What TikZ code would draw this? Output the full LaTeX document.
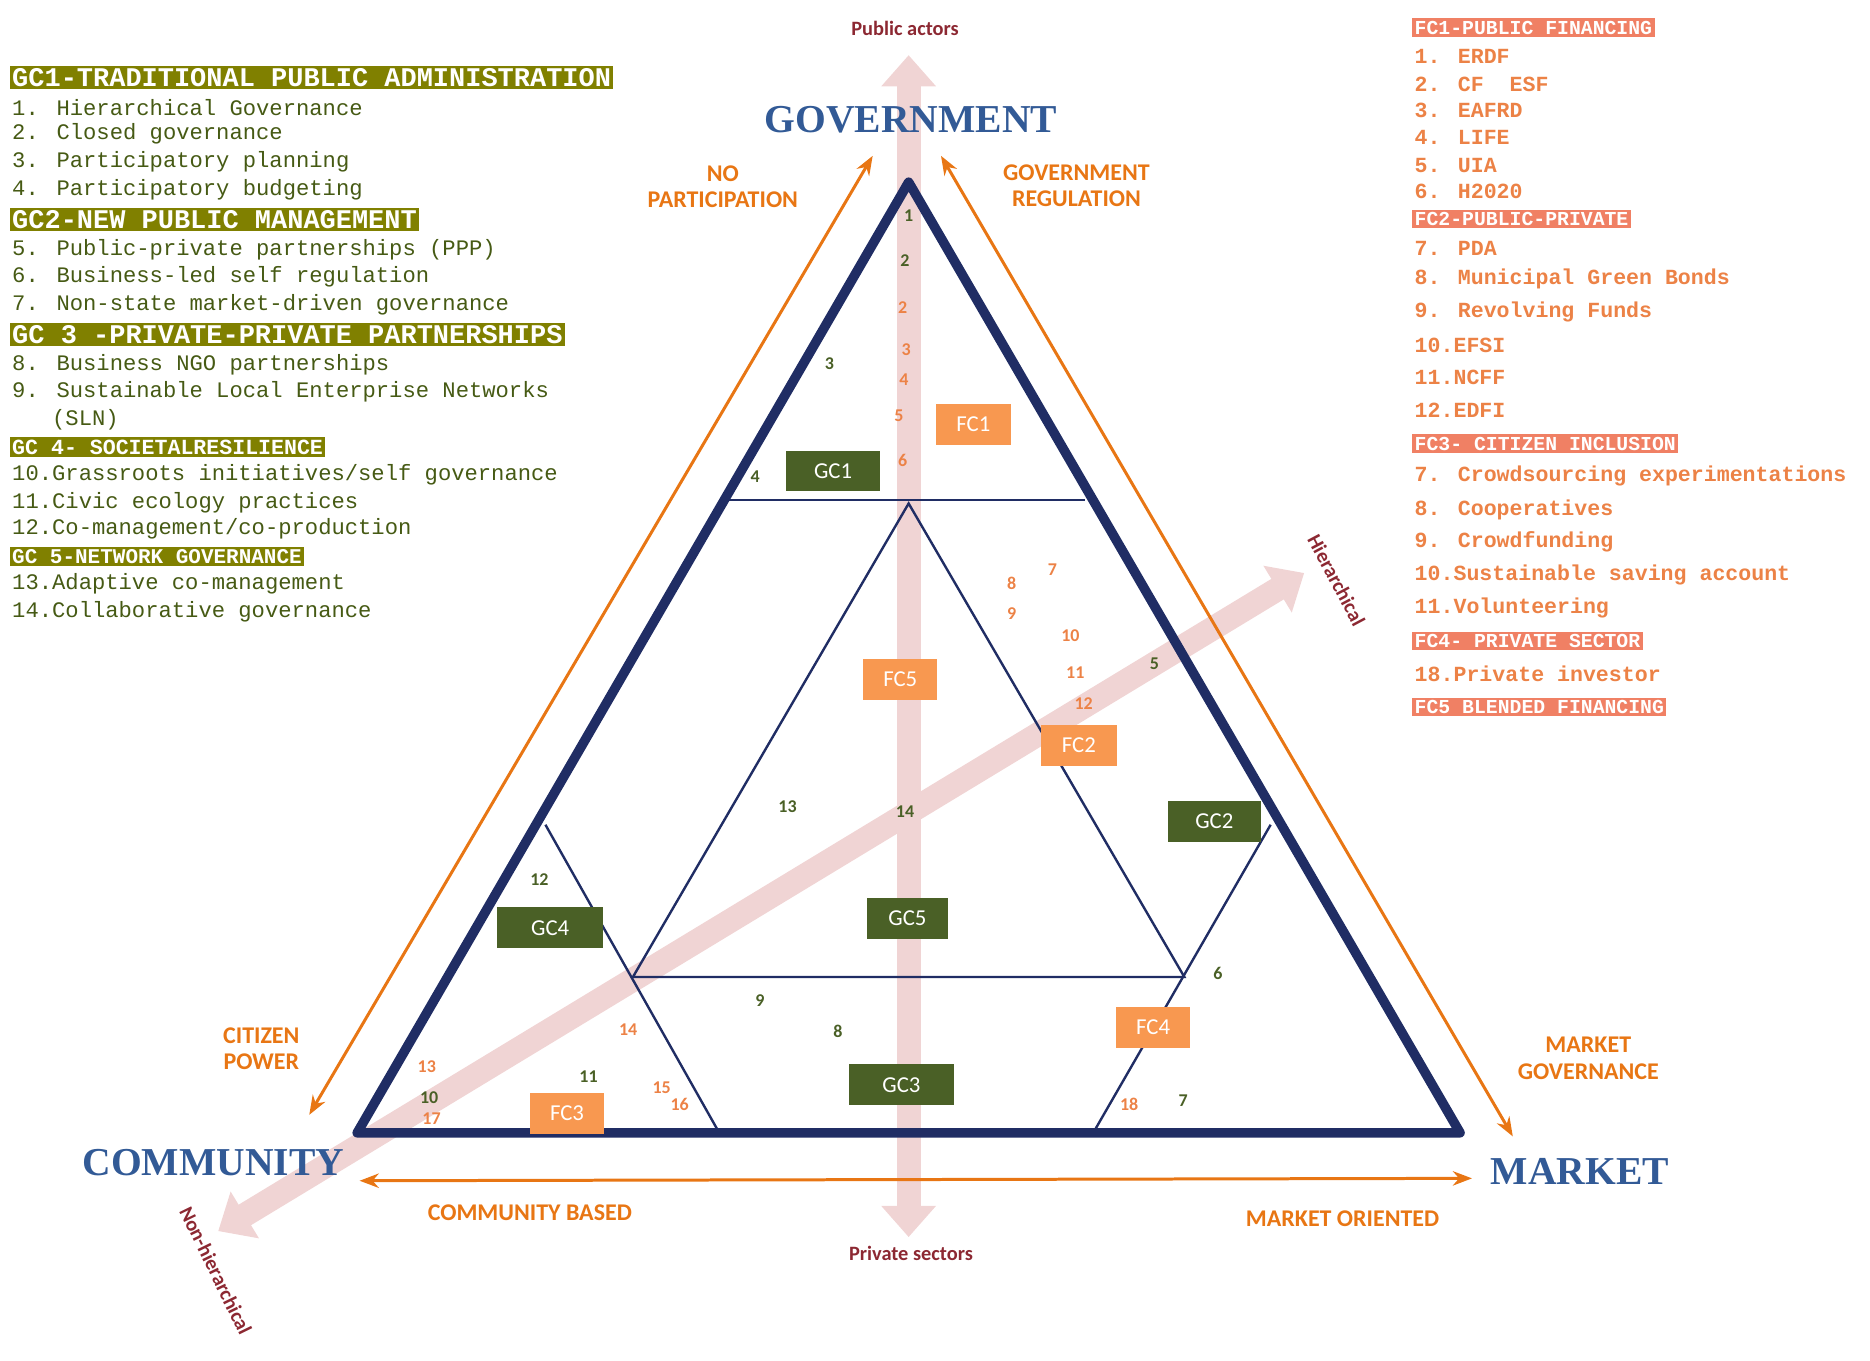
\documentclass[tikz,border=0pt]{standalone}
\usepackage{fontspec}
\setmainfont{Liberation Serif}
\newfontfamily\lmono{Liberation Mono}
\newfontfamily\lsans{Carlito}
\usetikzlibrary{arrows.meta}
\definecolor{navy}{RGB}{32,45,100}
\definecolor{pinkish}{RGB}{240,212,212}
\definecolor{orng}{RGB}{232,118,20}
\definecolor{olive}{RGB}{128,128,0}
\definecolor{ltxt}{RGB}{70,90,20}
\definecolor{salmon}{RGB}{240,128,100}
\definecolor{ftxt}{RGB}{236,130,70}
\definecolor{gbox}{RGB}{74,96,38}
\definecolor{fbox}{RGB}{248,152,80}
\definecolor{dred}{RGB}{140,40,50}
\definecolor{bluet}{RGB}{50,90,150}
\tikzset{
 lg/.style={anchor=west,inner sep=0pt,text=ltxt,font=\lmono\fontsize{18.5}{18.5}\selectfont},
 gh/.style={anchor=west,inner sep=2pt,fill=olive,text=white,font=\lmono\bfseries\fontsize{22.5}{22.5}\selectfont},
 fh/.style={anchor=west,inner sep=2pt,fill=salmon,text=white,font=\lmono\bfseries\fontsize{16.5}{16.5}\selectfont},
 fi/.style={anchor=west,inner sep=0pt,text=ftxt,font=\lmono\bfseries\fontsize{18}{18}\selectfont},
 gcb/.style={fill=gbox,text=white,minimum height=34pt,minimum width=78pt,font=\lsans\fontsize{19}{19}\selectfont},
 fcb/.style={fill=fbox,text=white,minimum height=34pt,minimum width=62pt,font=\lsans\fontsize{19}{19}\selectfont},
 num/.style={text=gbox,font=\lsans\bfseries\fontsize{15}{15}\selectfont,inner sep=0pt},
 onum/.style={text=ftxt,font=\lsans\bfseries\fontsize{15}{15}\selectfont,inner sep=0pt},
 lab/.style={text=orng,align=center,font=\lsans\bfseries\fontsize{20}{22}\selectfont},
 axl/.style={text=dred,font=\lsans\bfseries\fontsize{17}{17}\selectfont},
 big/.style={text=bluet,font=\bfseries\fontsize{33}{33}\selectfont},
 pk/.style={draw=pinkish,line width=20pt,{Triangle[length=26pt,width=44pt]}-{Triangle[length=26pt,width=44pt]}},
 oa/.style={draw=orng,line width=2.5pt,{Stealth[length=16pt,width=12pt]}-{Stealth[length=16pt,width=12pt]}},
 thin/.style={draw=navy,line width=2pt}
}
\begin{document}
\begin{tikzpicture}[x=1pt,y=-1pt]
\useasboundingbox (0,0) rectangle (1560,1135);
% pink axes
\coordinate (pt) at (758,46); \coordinate (pb) at (758,1032);
\coordinate (dl) at (182,1027); \coordinate (dr) at (1088,478);
\draw[pk] (pb) -- (pt);
\draw[pk] (dl) -- (dr);
% orange arrows
\coordinate (a1) at (258,930); \coordinate (a2) at (728,130);
\coordinate (b1) at (785,130); \coordinate (b2) at (1262,948);
\coordinate (c1) at (300,985); \coordinate (c2) at (1228,983);
\draw[oa] (a1) -- (a2); \draw[oa] (b1) -- (b2); \draw[oa] (c1) -- (c2);
% triangles
\coordinate (T) at (758,152); \coordinate (L) at (298,945); \coordinate (R) at (1218,945);
\draw[thin] (608,417) -- (905,417);
\draw[thin] (758,420) -- (528,815) -- (988,815) -- cycle;
\draw[thin] (455,688) -- (600,945);
\draw[thin] (1060,688) -- (912,945);
\draw[navy,line width=8pt,line join=round] (T) -- (L) -- (R) -- cycle;
% numbers
\foreach \n/\x/\y in {1/758/180,2/755/217,3/692/303,4/630/398,5/963/554,6/1016/812,7/987/918,8/699/860,9/634/835,10/358/916,11/491/898,12/450/734,13/657/673,14/755/677}
 \node[num] (g\n) at (\x,\y) {\n};
\foreach \n/\x/\y [count=\i] in {2/753/257,3/756/292,4/754/317,5/750/347,6/753/384,7/878/475,8/844/487,9/844/512,10/893/530,11/897/561,12/904/587,13/356/890,14/524/859,15/552/907,16/567/921,17/360/933,18/942/921}
 \node[onum] (o\i) at (\x,\y) {\n};
% boxes
\node[gcb] (GC1) at (695,393) {GC1};
\node[gcb] (GC2) at (1013,685) {GC2};
\node[gcb,minimum width=88pt] (GC3) at (752,905) {GC3};
\node[gcb,minimum width=88pt] (GC4) at (459,774) {GC4};
\node[gcb,minimum width=68pt] (GC5) at (757,766) {GC5};
\node[fcb] (FC1) at (812,354) {FC1};
\node[fcb,minimum width=64pt] (FC2) at (900,622) {FC2};
\node[fcb] (FC3) at (473,929) {FC3};
\node[fcb] (FC4) at (962,857) {FC4};
\node[fcb] (FC5) at (751,567) {FC5};
% labels
\node[axl] (pa) at (755,24) {Public actors};
\node[axl] (ps) at (760,1046) {Private sectors};
\node[axl,rotate=-62] (hi) at (1115,484) {Hierarchical};
\node[axl,rotate=-64] (nh) at (180,1060) {Non-hierarchical};
\node[big] (gov) at (760,100) {GOVERNMENT};
\node[big] (com) at (178,970) {COMMUNITY};
\node[big] (mkt) at (1318,977) {MARKET};
\node[lab] (np) at (603,156) {NO\\PARTICIPATION};
\node[lab] (gr) at (898,155) {GOVERNMENT\\REGULATION};
\node[lab] (cp) at (218,875) {CITIZEN\\POWER};
\node[lab] (mg) at (1325,883) {MARKET\\GOVERNANCE};
\node[lab] (cb) at (442,1012) {COMMUNITY BASED};
\node[lab] (mo) at (1120,1017) {MARKET ORIENTED};
% left legend
\node[gh] (h1) at (8,65) {GC1-TRADITIONAL PUBLIC ADMINISTRATION};
\node[lg] at (10,90) {1. Hierarchical Governance};
\node[lg] at (10,112) {2. Closed governance};
\node[lg] at (10,135) {3. Participatory planning};
\node[lg] at (10,158) {4. Participatory budgeting};
\node[gh] (h2) at (8,183) {GC2-NEW PUBLIC MANAGEMENT};
\node[lg] at (10,208) {5. Public-private partnerships (PPP)};
\node[lg] at (10,231) {6. Business-led self regulation};
\node[lg] at (10,254) {7. Non-state market-driven governance};
\node[gh] (h3) at (8,279) {GC 3 -PRIVATE-PRIVATE PARTNERSHIPS};
\node[lg] at (10,304) {8. Business NGO partnerships};
\node[lg] at (10,327) {9. Sustainable Local Enterprise Networks};
\node[lg] at (10,350) {\ \ \ (SLN)};
\node[gh,font=\lmono\bfseries\fontsize{18}{18}\selectfont] (h4) at (8,373) {GC 4- SOCIETALRESILIENCE};
\node[lg] at (10,396) {10.Grassroots initiatives/self governance};
\node[lg] at (10,419) {11.Civic ecology practices};
\node[lg] at (10,441) {12.Co-management/co-production};
\node[gh,font=\lmono\bfseries\fontsize{17.5}{17.5}\selectfont] (h5) at (8,464) {GC 5-NETWORK GOVERNANCE};
\node[lg] at (10,487) {13.Adaptive co-management};
\node[lg] at (10,510) {14.Collaborative governance};
% right legend
\node[fh] (f1) at (1178,23) {FC1-PUBLIC FINANCING};
\foreach \t/\y in {1. ERDF/47,2. CF \ ESF/70,3. EAFRD/92,4. LIFE/115,5. UIA/138,6. H2020/160}
 \node[fi] at (1180,\y) {\t};
\node[fh] (f2) at (1178,183) {FC2-PUBLIC-PRIVATE};
\foreach \t/\y in {7. PDA/207,8. Municipal Green Bonds/233,9. Revolving Funds/260,10.EFSI/288,11.NCFF/315,12.EDFI/342}
 \node[fi] at (1180,\y) {\t};
\node[fh] (f3) at (1178,370) {FC3- CITIZEN INCLUSION};
\foreach \t/\y in {7. Crowdsourcing experimentations/397,8. Cooperatives/425,9. Crowdfunding/452,10.Sustainable saving account/480,11.Volunteering/507}
 \node[fi] at (1180,\y) {\t};
\node[fh] (f4) at (1178,535) {FC4- PRIVATE SECTOR};
\node[fi] at (1180,562) {18.Private investor};
\node[fh] (f5) at (1178,590) {FC5 BLENDED FINANCING};
\end{tikzpicture}
\end{document}
